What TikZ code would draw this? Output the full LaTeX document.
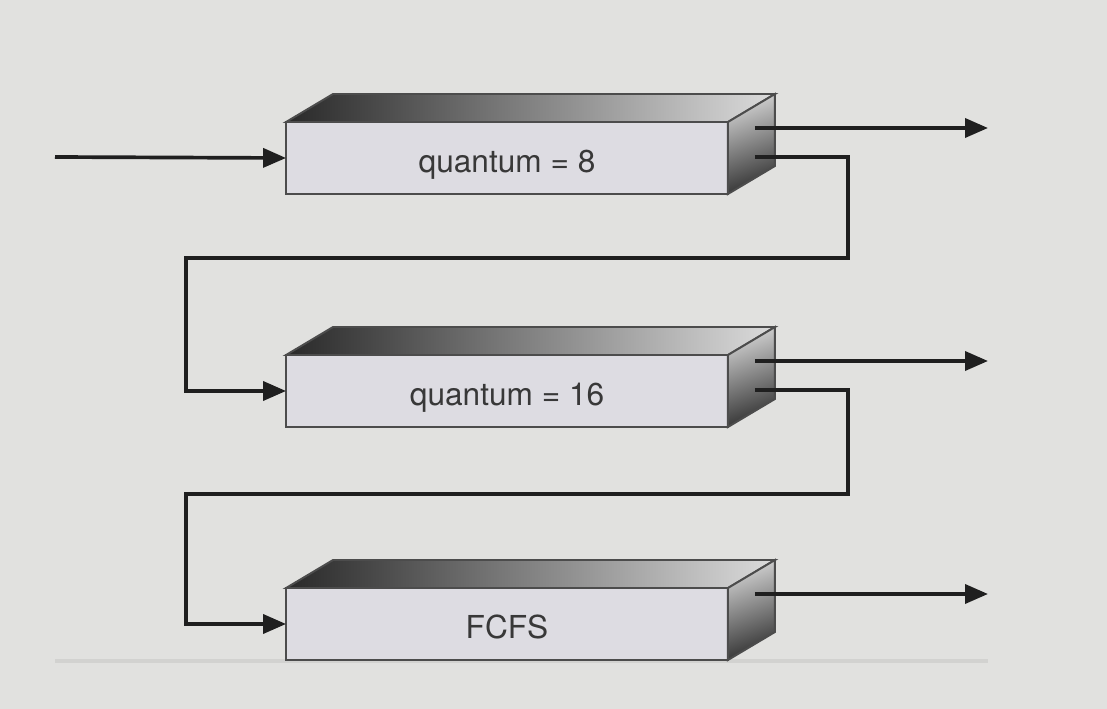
\documentclass[tikz,border=0pt]{standalone}
\usepackage{fontspec}
\setsansfont{TeX Gyre Heros}
\usetikzlibrary{arrows.meta, calc}
\definecolor{bg}{RGB}{225,225,223}
\definecolor{face}{RGB}{221,220,226}
\definecolor{floor}{RGB}{210,210,208}
\tikzset{
  queue/.style = {draw=black!70, line width=1.1pt, fill=face, minimum width=8.84cm,
                  minimum height=1.44cm, inner sep=0pt, outer sep=0pt,
                  text height=17pt, text depth=0pt,
                  font=\sffamily\fontsize{18}{21}\selectfont, text=black!78},
  lid/.style   = {draw=black!70, line width=1.1pt, left color=black!84, right color=black!14},
  flank/.style = {draw=black!70, line width=1.1pt, top color=black!18, bottom color=black!80,
                  shading angle=20},
  flow/.style  = {-{Triangle[length=0.46cm, width=0.38cm]}, line width=2.1pt, draw=black!88},
}

\begin{document}
\begin{tikzpicture}[x=0.02cm, y=-0.02cm]
  \fill[bg] (0,0) rectangle (1107,709);
  \useasboundingbox (0,0) rectangle (1107,709);
  \draw[floor, line width=2.2pt] (55,661) -- (988,661);

  \foreach \q/\y/\t in {q8/158/{quantum = 8}, q16/391/{quantum = 16}, fcfs/624/FCFS} {
    \node[queue] (\q) at (507,\y) {\t};
    \draw[lid] (\q.north west) -- ++(47,-28) -- ($(\q.north east)+(47,-28)$)
          -- (\q.north east) -- cycle;
    \draw[flank] (\q.north east) -- ++(47,-28) -- ++(0,72) -- (\q.south east) -- cycle;
    \coordinate (\q-out) at ($(\q.east)+(27,-30)$);
    \coordinate (\q-done) at (988,\y-30);
    \coordinate (\q-fb) at ($(\q.east)+(27,-1)$);
  }

  \coordinate (src) at (55,157);
  \coordinate (bend1) at (848,258);
  \coordinate (bend1b) at (186,258);
  \coordinate (bend2) at (848,494);
  \coordinate (bend2b) at (186,494);

  \draw[flow] (src) -- (q8.west);
  \foreach \q in {q8,q16,fcfs}
    \draw[flow] (\q-out) -- (\q-done);
  \draw[flow] (q8-fb) -| (bend1) -- (bend1b) |- (q16.west);
  \draw[flow] (q16-fb) -| (bend2) -- (bend2b) |- (fcfs.west);
\end{tikzpicture}
\end{document}
